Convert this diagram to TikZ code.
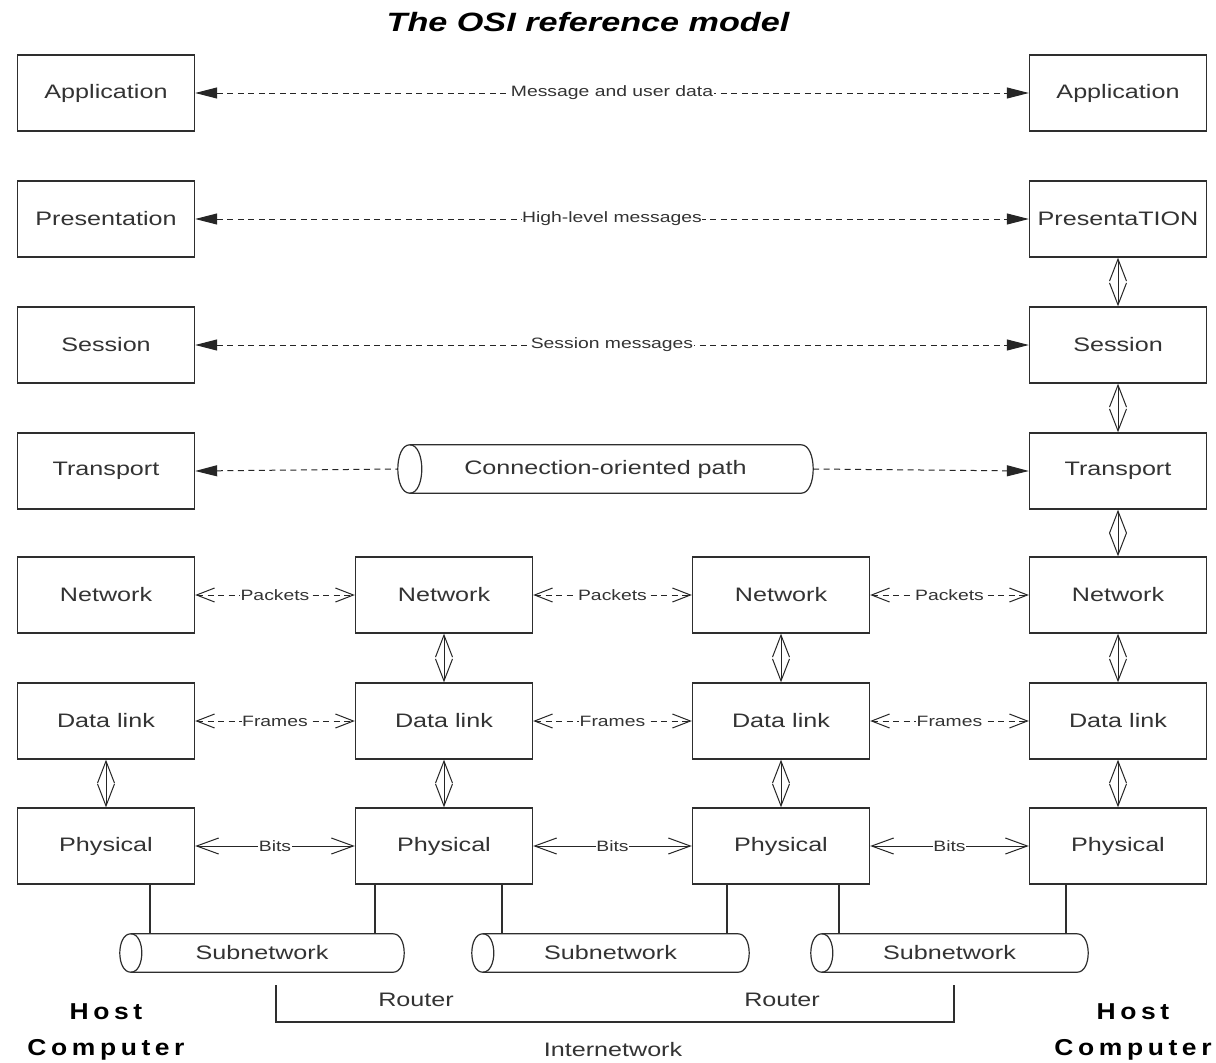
\documentclass[tikz,border=0pt]{standalone}
\usepackage{fontspec}
\setmainfont{Liberation Sans}
\newfontfamily\labfont[FakeStretch=1.29]{Liberation Sans}
\newfontfamily\hostfont[FakeStretch=1.15,LetterSpace=20]{Liberation Sans}
\usetikzlibrary{arrows.meta}

% horizontal pipe drawn round a rectangular node: full ellipse on the
% left end, half ellipse on the right end (#2 = radius along the axis)
\newcommand\drawpipe[2]{%
  \draw[wire, fill=white]
    ([xshift=#2]#1.north west) -- ([xshift=-#2]#1.north east)
    .. controls ([xshift=#2/3]#1.north east) and ([xshift=#2/3]#1.south east)
    .. ([xshift=-#2]#1.south east) -- ([xshift=#2]#1.south west)
    .. controls ([xshift=-#2/3]#1.south west) and ([xshift=-#2/3]#1.north west)
    .. cycle;
  \draw[wire]
    ([xshift=#2]#1.south west)
    .. controls ([xshift=#2*7/3]#1.south west) and ([xshift=#2*7/3]#1.north west)
    .. ([xshift=#2]#1.north west);
}

\begin{document}
\begin{tikzpicture}[x=1pt,y=-1pt,
  layer/.style={draw=black!82, line width=1.4pt, minimum width=177pt,
    minimum height=76pt, inner sep=0pt, text=black!80,
    font=\labfont\fontsize{19.5}{22}\selectfont},
  pipe/.style={inner sep=0pt, text=black!80,
    font=\labfont\fontsize{19.5}{22}\selectfont},
  msg/.style={fill=white, inner sep=0.6pt, text=black!80,
    font=\labfont\fontsize{15}{17}\selectfont},
  peer/.style={draw=black!85, line width=1pt, dash pattern=on 6pt off 4.5pt},
  tri/.tip={Triangle[length=22pt,width=11pt]},
  barb/.tip={Straight Barb[length=18pt,width=14pt,line width=1pt]},
  bbarb/.tip={Straight Barb[length=22pt,width=16pt,line width=1pt]},
  vbarb/.tip={Straight Barb[length=22pt,width=17pt,line width=1pt]},
  hop/.style={draw=black!85, line width=1pt, dash pattern=on 6pt off 4.5pt, barb-barb},
  bits/.style={draw=black!85, line width=1pt, bbarb-bbarb},
  updown/.style={draw=black!85, line width=1pt, vbarb-vbarb},
  wire/.style={draw=black!82, line width=1.2pt},
  plain/.style={text=black!80, font=\labfont\fontsize{19.5}{22}\selectfont},
  host/.style={text=black, font=\hostfont\bfseries\fontsize{23}{26}\selectfont}
]
\fill[white] (0,0) rectangle (1216,1063);
\useasboundingbox (0,0) rectangle (1216,1063);

% title
\node[text=black, font=\labfont\bfseries\itshape\fontsize{26.5}{30}\selectfont]
  (title) at (588,22) {The OSI reference model};

% host computer, left column
\node[layer] (app1)  at (106,93)  {Application};
\node[layer] (pres1) at (106,219) {Presentation};
\node[layer] (ses1)  at (106,345) {Session};
\node[layer] (tra1)  at (106,471) {Transport};
\node[layer] (net1)  at (106,595) {Network};
\node[layer] (dl1)   at (106,721) {Data link};
\node[layer] (ph1)   at (106,846) {Physical};

% first router
\node[layer] (net2)  at (444,595) {Network};
\node[layer] (dl2)   at (444,721) {Data link};
\node[layer] (ph2)   at (444,846) {Physical};

% second router
\node[layer] (net3)  at (781,595) {Network};
\node[layer] (dl3)   at (781,721) {Data link};
\node[layer] (ph3)   at (781,846) {Physical};

% host computer, right column
\node[layer] (app4)  at (1118,93)  {Application};
\node[layer] (pres4) at (1118,219) {PresentaTION};
\node[layer] (ses4)  at (1118,345) {Session};
\node[layer] (tra4)  at (1118,471) {Transport};
\node[layer] (net4)  at (1118,595) {Network};
\node[layer] (dl4)   at (1118,721) {Data link};
\node[layer] (ph4)   at (1118,846) {Physical};

% end-to-end peer protocols
\draw[peer, tri-tri] (app1.east) -- (app4.west)
  node[msg, midway] {Message and user data};
\draw[peer, tri-tri] (pres1.east) -- (pres4.west)
  node[msg, midway] {High-level messages};
\draw[peer, tri-tri] (ses1.east) -- (ses4.west)
  node[msg, midway] {Session messages};

% transport connection
\node[pipe, minimum width=415pt, minimum height=48pt] (cop) at (605.5,469) {};
\drawpipe{cop}{12pt}
\node[pipe] (coptext) at (cop.center) {Connection-oriented path};
\draw[peer, tri-] (tra1.east) -- (cop.west);
\draw[peer, -tri] (cop.east) -- (tra4.west);

% hop-by-hop exchanges
\foreach \a/\b in {1/2,2/3,3/4}{
  \draw[hop] (net\a.east) -- (net\b.west) node[msg, midway] {Packets};
  \draw[hop] (dl\a.east) -- (dl\b.west) node[msg, midway] {Frames};
  \draw[bits] (ph\a.east) -- (ph\b.west) node[msg, midway] {Bits};
}

% vertical interfaces
\draw[updown] (pres4.south) -- (ses4.north);
\draw[updown] (ses4.south) -- (tra4.north);
\draw[updown] (tra4.south) -- (net4.north);
\foreach \c in {2,3,4}{
  \draw[updown] (net\c.south) -- (dl\c.north);
}
\foreach \c in {1,2,3,4}{
  \draw[updown] (dl\c.south) -- (ph\c.north);
}

% subnetworks
\node[pipe, minimum width=284pt, minimum height=38pt] (sn1) at (262,953) {};
\node[pipe, minimum width=277pt, minimum height=38pt] (sn2) at (610.5,953) {};
\node[pipe, minimum width=277pt, minimum height=38pt] (sn3) at (949.5,953) {};
\foreach \s in {sn1,sn2,sn3}{
  \drawpipe{\s}{11pt}
  \node[pipe] at (\s.center) {Subnetwork};
}

\coordinate (w1)  at ([xshift=44pt]ph1.south);
\coordinate (w2a) at ([xshift=-69pt]ph2.south);
\coordinate (w2b) at ([xshift=58pt]ph2.south);
\coordinate (w3a) at ([xshift=-54pt]ph3.south);
\coordinate (w3b) at ([xshift=58pt]ph3.south);
\coordinate (w4)  at ([xshift=-52pt]ph4.south);
\draw[wire] (w1)  -- (w1 |- sn1.north);
\draw[wire] (w2a) -- (w2a |- sn1.north);
\draw[wire] (w2b) -- (w2b |- sn2.north);
\draw[wire] (w3a) -- (w3a |- sn2.north);
\draw[wire] (w3b) -- (w3b |- sn3.north);
\draw[wire] (w4)  -- (w4 |- sn3.north);

% internetwork bracket
\coordinate (brL) at (276,985);
\coordinate (brR) at (954,985);
\draw[wire] (brL) -- (276,1022) -- (954,1022) -- (brR);
\node[plain] (rt1) at (416,1000) {Router};
\node[plain] (rt2) at (782,1000) {Router};
\node[plain] (inet) at (613,1050) {Internetwork};

% host labels
\node[host] (hostL)  at (106,1012) {Host};
\node[host] (compL)  at (106,1050) {Computer};
\node[host] (hostR)  at (1133,1012) {Host};
\node[host] (compR)  at (1133,1050) {Computer};
\end{tikzpicture}
\end{document}
